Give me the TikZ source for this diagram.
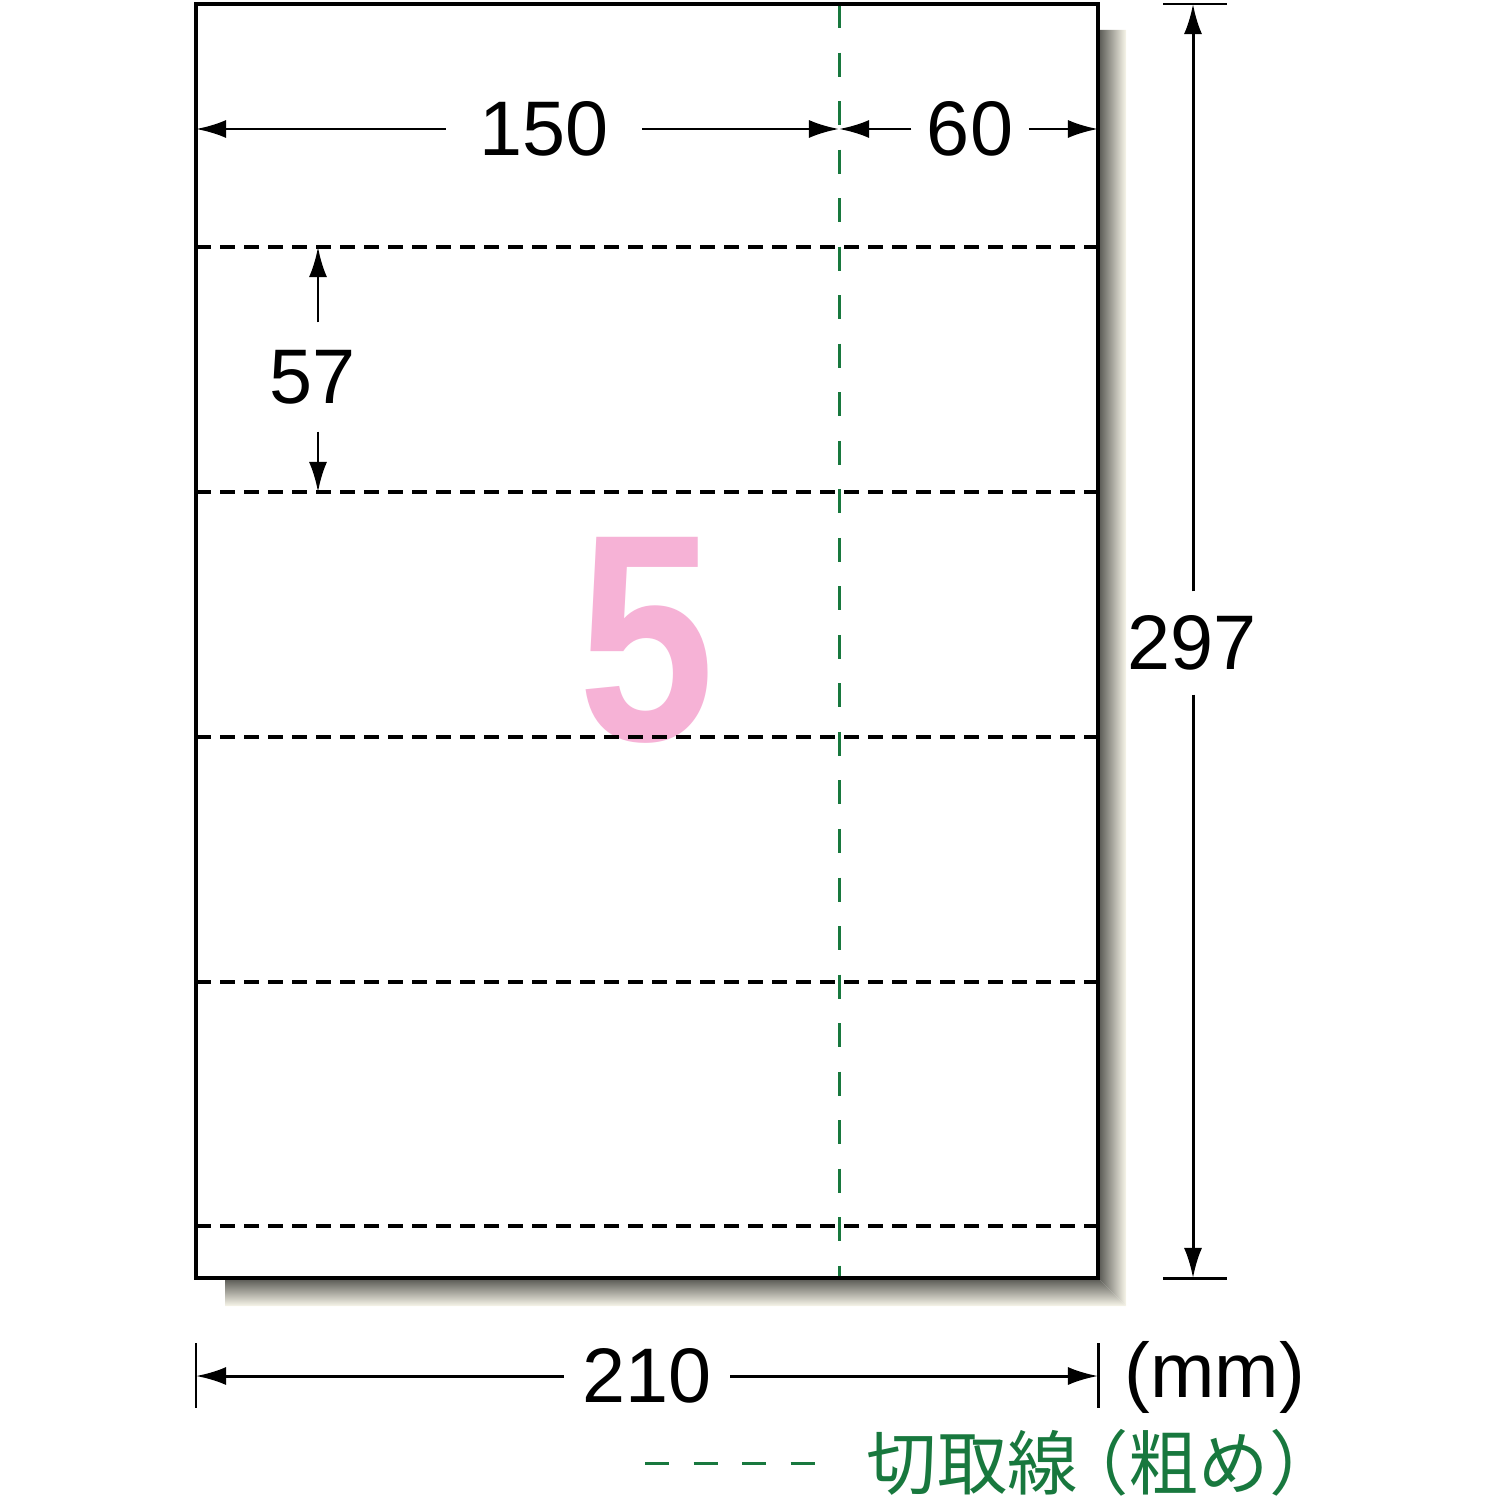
\documentclass[tikz,border=0pt]{standalone}
\usepackage{fontspec}
\usepackage{graphicx}
\setmainfont{Liberation Sans}
\newfontfamily\cjk{Noto Sans CJK JP}
\usetikzlibrary{arrows.meta}

\definecolor{cutgreen}{RGB}{24,120,62}
\definecolor{labelpink}{RGB}{246,178,214}
\definecolor{shadowgray}{RGB}{85,85,80}
\definecolor{shadowcream}{RGB}{248,246,234}

\tikzset{
  sheet/.style={line width=1.15pt},
  perforation/.style={line width=1pt, dash pattern=on 0.15cm off 0.09cm},
  cutline/.style={line width=0.85pt, cutgreen, dash pattern=on 0.24cm off 0.245cm},
  dimline/.style={line width=0.85pt, -{Latex[length=0.3cm, width=0.18cm]}},
  dimtick/.style={line width=0.85pt},
  dimlabel/.style={font=\fontsize{22}{26}\selectfont, inner sep=0pt}
}

\begin{document}
\begin{tikzpicture}[x=0.01cm, y=-0.01cm]
\useasboundingbox (0,0) rectangle (1500,1500);

% shadow of the sheet
\shade[left color=shadowgray, right color=shadowcream] (1098,30) -- (1126,30) -- (1126,1306) -- (1098,1278) -- cycle;
\shade[top color=shadowgray, bottom color=shadowcream] (225,1278) -- (1098,1278) -- (1126,1306) -- (225,1306) -- cycle;

% sheet
\coordinate (nw) at (196,4);
\coordinate (ne) at (1098,4);
\coordinate (sw) at (196,1278);
\coordinate (se) at (1098,1278);
\fill[white] (nw) rectangle (se);

\node[font=\bfseries\fontsize{84}{84}\selectfont, text=labelpink, inner sep=0pt] (count) at (647,640) {\scalebox{0.83}[1]{5}};

\foreach \y in {247,492,737,982,1226}
  \draw[perforation] (196,\y) -- (1098,\y);
\draw[cutline] (839,4) -- (839,1278);
\draw[sheet] (nw) rectangle (se);

% 150 / 60
\coordinate (cuttop) at (839,129);
\node[dimlabel, inner xsep=0.33cm, minimum height=0.5cm] (w150) at (544,129) {150};
\node[dimlabel, inner xsep=0.15cm, minimum height=0.5cm] (w60) at (970,129) {60};
\draw[dimline] (w150.west) -- (nw |- w150);
\draw[dimline] (w150.east) -- (cuttop);
\draw[dimline] (w60.west) -- (cuttop);
\draw[dimline] (w60.east) -- (ne |- w60);

% 57
\coordinate (r57a) at (318,247);
\coordinate (r57b) at (318,492);
\node[dimlabel, inner ysep=0.27cm] (h57) at (313,377) {57};
\draw[dimline] (h57.north -| r57a) -- (r57a);
\draw[dimline] (h57.south -| r57b) -- (r57b);

% 297
\coordinate (t297a) at (1193,4);
\coordinate (t297b) at (1193,1278);
\draw[dimtick] (1163,4) -- (1227,4);
\draw[dimtick] (1163,1278) -- (1227,1278);
\node[dimlabel, inner ysep=0.235cm] (h297) at (1192,643) {297};
\draw[dimline] (h297.north -| t297a) -- (t297a);
\draw[dimline] (h297.south -| t297b) -- (t297b);

% 210
\coordinate (t210a) at (196,1376);
\coordinate (t210b) at (1098,1376);
\draw[dimtick] (196,1343) -- (196,1408);
\draw[dimtick] (1098,1343) -- (1098,1408);
\node[dimlabel, inner xsep=0.18cm, minimum height=0.5cm] (w210) at (647,1376) {210};
\draw[dimline] (w210.west) -- (t210a);
\draw[dimline] (w210.east) -- (t210b);
\node[dimlabel, anchor=west] (unit) at (1124,1377) {(mm)};

% legend
\node[font=\cjk\fontsize{20}{24}\selectfont, text=cutgreen, anchor=west, inner sep=0pt] (legend) at (866,1463) {切取線\kern-0.28em（粗め）};
\draw[cutline] (645,1463) -- (820,1463);
\end{tikzpicture}
\end{document}
